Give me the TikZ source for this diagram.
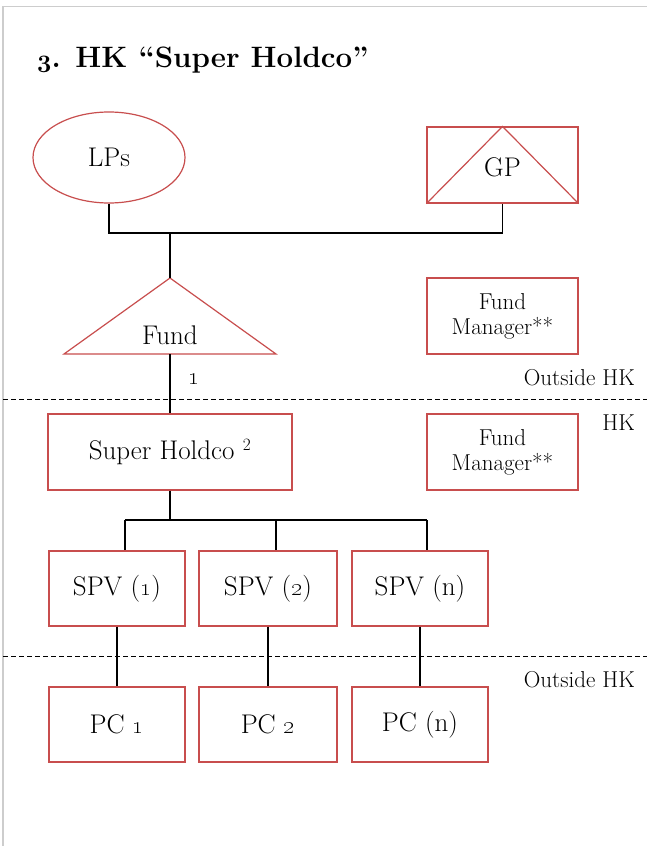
\documentclass[tikz,border=0pt]{standalone}
\usetikzlibrary{shapes.geometric}
\definecolor{boxred}{RGB}{200,78,78}
\definecolor{framegray}{RGB}{205,205,205}
\tikzset{
  ent/.style={draw=boxred, line width=1.2pt, rectangle, minimum width=151pt, minimum height=76pt, inner sep=0pt, align=center, font=\fontsize{27}{32}\selectfont},
  small/.style={font=\fontsize{23}{25}\selectfont, align=center},
  conn/.style={draw=black, line width=1.3pt},
  zone/.style={draw=black, line width=1pt, dash pattern=on 5pt off 3pt},
  lbl/.style={font=\fontsize{23}{26}\selectfont, inner sep=0pt},
  plain/.style={inner sep=0pt, font=\fontsize{27}{32}\selectfont}
}
\begin{document}
\begin{tikzpicture}[x=1pt,y=-1pt]
\useasboundingbox (0,0) rectangle (647,846);
\fill[white] (0,0) rectangle (647,846);
\draw[framegray, line width=1.5pt] (3,846) -- (3,6.5) -- (647,6.5);

% title
\node[anchor=base west, inner sep=0pt, font=\fontsize{29.5}{34}\selectfont\bfseries] (title) at (37,67) {{\usefont{OML}{cmm}{b}{it}3}. HK “Super Holdco”};

% zone lines
\draw[zone] (3,399) -- (647,399);
\draw[zone] (3,656) -- (647,656);
\node[lbl, anchor=east] (out1) at (635,378) {Outside HK};
\node[lbl, anchor=east] (hk) at (635,423) {HK};
\node[lbl, anchor=east] (out2) at (635,680) {Outside HK};

% top tier
\node[ent, ellipse, minimum width=152pt, minimum height=91pt] (lps) at (109,157.5) {LPs};
\node[ent] (gp) at (502.5,165) {};
\draw[boxred, line width=1.2pt] (gp.south west) -- (gp.north) -- (gp.south east);
\node[plain] (gptext) at (502.5,167) {GP};

% fund triangle
\coordinate (fundapex) at (170,278);
\coordinate (fundbase) at (170,354);
\draw[boxred, line width=1.2pt] (64,354) -- (fundapex) -- (276,354) -- cycle;
\node[plain] (fund) at (170,335) {Fund};

\node[ent, small] (fm1) at (502.5,316) {Fund\\Manager**};

% HK tier
\node[ent, minimum width=244pt] (sh) at (170,452) {Super Holdco $^{\mathrm{2}}$};
\node[ent, small] (fm2) at (502.5,452) {Fund\\Manager**};

\node[ent, minimum width=136pt, minimum height=75pt] (spv1) at (117,588.5) {SPV (\oldstylenums{1})};
\node[ent, minimum width=138pt, minimum height=75pt] (spv2) at (268,588.5) {SPV (\oldstylenums{2})};
\node[ent, minimum width=136pt, minimum height=75pt] (spv3) at (420,588.5) {SPV (n)};

\node[ent, minimum width=136pt, minimum height=75pt] (pc1) at (117,724.5) {PC \oldstylenums{1}};
\node[ent, minimum width=138pt, minimum height=75pt] (pc2) at (268,724.5) {PC \oldstylenums{2}};
\node[ent, minimum width=136pt, minimum height=75pt] (pc3) at (420,724.5) {PC (n)};

% connectors
\coordinate (j1) at (170,233);
\draw[conn] (lps.south) |- (j1) -| (gp.south);
\draw[conn] (j1) -- (fundapex);
\draw[conn] (fundbase) -- (sh.north);
\node[lbl] (one) at (194,379) {\oldstylenums{1}};

\coordinate (j2) at (170,520);
\coordinate (b1) at (125,520);
\coordinate (b2) at (276,520);
\coordinate (b3) at (427,520);
\draw[conn] (sh.south) -- (j2);
\draw[conn] (b1) -- (b3);
\draw[conn] (b1) -- (b1 |- spv1.north);
\draw[conn] (b2) -- (b2 |- spv2.north);
\draw[conn] (b3) -- (b3 |- spv3.north);

\draw[conn] (spv1.south) -- (pc1.north);
\draw[conn] (spv2.south) -- (pc2.north);
\draw[conn] (spv3.south) -- (pc3.north);
\end{tikzpicture}
\end{document}
